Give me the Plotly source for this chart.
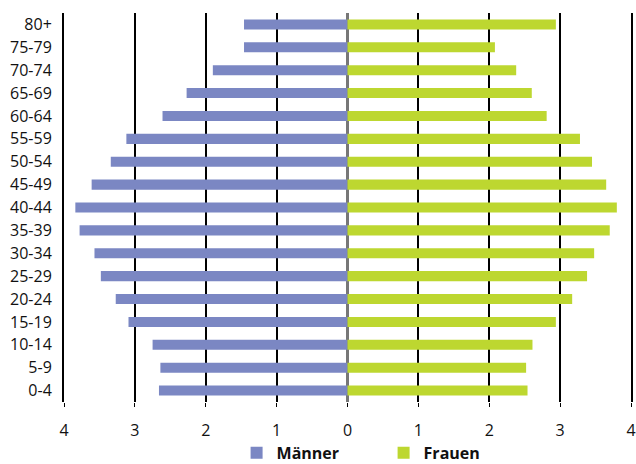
import plotly.graph_objects as go

# Age groups from youngest (bottom) to oldest (top)
age_groups = ["0-4", "5-9", "10-14", "15-19", "20-24", "25-29", "30-34", "35-39",
              "40-44", "45-49", "50-54", "55-59", "60-64", "65-69", "70-74", "75-79", "80+"]

# Share of population in percent
maenner = [2.66, 2.64, 2.75, 3.09, 3.27, 3.48, 3.57, 3.78,
           3.84, 3.61, 3.34, 3.12, 2.61, 2.27, 1.90, 1.46, 1.46]
frauen = [2.54, 2.52, 2.61, 2.94, 3.17, 3.38, 3.48, 3.70,
          3.80, 3.65, 3.45, 3.28, 2.81, 2.60, 2.38, 2.08, 2.94]

tick_vals = [-4, -3, -2, -1, 0, 1, 2, 3, 4]
tick_text = ["4", "3", "2", "1", "0", "1", "2", "3", "4"]

FONT = "Open Sans"
TEXT = "#111111"

fig = go.Figure()
fig.add_trace(go.Bar(
    y=age_groups, x=[-v for v in maenner], orientation="h",
    name="Männer", marker=dict(color="#7b87c3", line=dict(width=0)),
    customdata=maenner, hovertemplate="%{y}: %{customdata}<extra>Männer</extra>",
))
fig.add_trace(go.Bar(
    y=age_groups, x=frauen, orientation="h",
    name="Frauen", marker=dict(color="#bdd730", line=dict(width=0)),
    hovertemplate="%{y}: %{x}<extra>Frauen</extra>",
))

fig.update_layout(
    width=636, height=464,
    margin=dict(l=64, r=5, t=13, b=62, autoexpand=False),
    paper_bgcolor="white", plot_bgcolor="white",
    barmode="overlay", bargap=0.56,
    font=dict(family=FONT, size=16, color=TEXT),
    showlegend=True,
    legend=dict(
        orientation="h",
        xref="container", x=0.372, xanchor="left",
        yref="paper", y=-0.131, yanchor="middle",
        font=dict(family=FONT, size=16, color=TEXT, weight="bold"),
        entrywidth=102, entrywidthmode="pixels",
        itemwidth=30, tracegroupgap=0, bgcolor="rgba(0,0,0,0)",
    ),
)

fig.update_xaxes(
    range=[-4, 4], tickmode="array", tickvals=tick_vals, ticktext=tick_text,
    showgrid=True, gridcolor="black", gridwidth=1.6,
    zeroline=True, zerolinecolor="#777777", zerolinewidth=2.5,
    ticks="outside", ticklen=4, tickcolor="black", tickwidth=1,
    ticklabelstandoff=10, showline=False, layer="above traces",
    automargin=False, fixedrange=True,
)
fig.update_yaxes(
    type="category", categoryorder="array", categoryarray=age_groups,
    range=[-0.5, len(age_groups) - 0.5],
    showgrid=False, zeroline=False,
    showline=True, mirror=True, linecolor="black", linewidth=2,
    ticks="", ticklabelstandoff=7, layer="above traces",
    automargin=False, fixedrange=True,
)

fig.write_html("out.html")
